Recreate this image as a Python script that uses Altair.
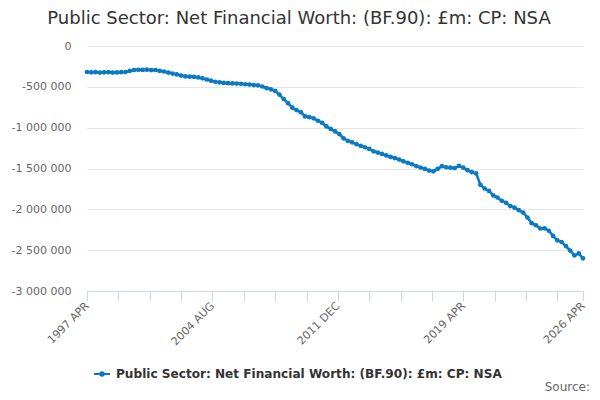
import altair as alt
import pandas as pd

title_text = "Public Sector: Net Financial Worth: (BF.90): £m: CP: NSA"
series_name = "Public Sector: Net Financial Worth: (BF.90): £m: CP: NSA"
source_text = "Source:"

# quarterly readings, £m, starting 1997 APR
values = [
    -318000, -322000, -320000, -325000, -322000, -320000, -326000, -323000, -321000, -318000,
    -305000, -294000, -291000, -293000, -290000, -295000, -294000, -305000, -312000, -325000,
    -338000, -348000, -362000, -372000, -375000, -378000, -385000, -396000, -410000, -425000,
    -438000, -445000, -452000, -455000, -458000, -460000, -463000, -468000, -472000, -478000,
    -482000, -496000, -515000, -530000, -550000, -595000, -650000, -700000, -755000, -785000,
    -810000, -862000, -872000, -886000, -915000, -942000, -985000, -1015000, -1045000, -1078000,
    -1130000, -1162000, -1180000, -1202000, -1222000, -1240000, -1260000, -1290000, -1305000, -1322000,
    -1340000, -1358000, -1372000, -1390000, -1412000, -1430000, -1448000, -1470000, -1488000, -1505000,
    -1525000, -1535000, -1505000, -1472000, -1485000, -1490000, -1495000, -1468000, -1490000, -1520000,
    -1545000, -1560000, -1700000, -1745000, -1775000, -1830000, -1855000, -1895000, -1920000, -1960000,
    -1980000, -2010000, -2040000, -2100000, -2170000, -2195000, -2235000, -2232000, -2262000, -2325000,
    -2380000, -2400000, -2450000, -2505000, -2565000, -2540000, -2600000,
]

y_ticks = [0, -500000, -1000000, -1500000, -2000000, -2500000, -3000000]
labelled_months = ["1997-04", "2004-08", "2011-12", "2019-04", "2026-04"]

start = pd.Timestamp("1997-04-01")
dates = [(start + pd.DateOffset(months=3 * i)).strftime("%Y-%m-%d") for i in range(len(values))]
df = pd.DataFrame({"date": dates, "value": values, "series": series_name})

tick_dates = [start + pd.DateOffset(months=22 * i) for i in range(16)] + [pd.Timestamp("2026-04-01")]
tick_values = [alt.DateTime(year=t.year, month=t.month, date=1, utc=True) for t in tick_dates]

blue = "#0a7bc2"
font = "DejaVu Sans"

label_list = "[" + ",".join("'" + m + "'" for m in labelled_months) + "]"
x_label_expr = (
    "indexof(" + label_list + ", utcFormat(datum.value, '%Y-%m')) >= 0 ? "
    "upper(utcFormat(datum.value, '%Y %b')) : ''"
)
y_label_expr = "replace(replace(format(datum.value, ','), regexp(',', 'g'), ' '), '\u2212', '-')"

x_enc = alt.X(
    "date:T",
    scale=alt.Scale(type="utc", domain=[alt.DateTime(year=1997, month=4, date=1, utc=True),
                                        alt.DateTime(year=2026, month=4, date=1, utc=True)]),
    axis=alt.Axis(
        title=None, values=tick_values, labelExpr=x_label_expr, grid=False,
        domainColor="#ccd6eb", tickColor="#ccd6eb", tickSize=10, labelAngle=315,
        labelAlign="right", labelBaseline="middle", labelFont=font, labelFontSize=11,
        labelColor="#666666", labelPadding=3, labelOverlap=False, labelFlush=False,
    ),
)
y_enc = alt.Y(
    "value:Q",
    scale=alt.Scale(domain=[-3000000, 0], nice=False, zero=False),
    axis=alt.Axis(
        title=None, values=y_ticks, labelExpr=y_label_expr, domain=False, ticks=False,
        gridColor="#e6e6e6", labelFont=font, labelFontSize=11, labelColor="#666666",
        labelPadding=16,
    ),
)
color_enc = alt.Color(
    "series:N",
    scale=alt.Scale(range=[blue]),
    legend=alt.Legend(
        title=None, orient="none", legendX=6, legendY=319,
        symbolType="M-1,0L1,0M-0.22,0A0.22,0.22,0,1,1,0.22,0A0.22,0.22,0,1,1,-0.22,0Z",
        symbolSize=256, symbolStrokeWidth=2, symbolStrokeColor=blue, symbolFillColor=blue,
        labelFont=font, labelFontSize=12.1, labelFontWeight="bold", labelColor="#333333",
        labelLimit=600, labelOffset=5,
    ),
)

line = alt.Chart(df).mark_line(strokeWidth=2.6).encode(x=x_enc, y=y_enc, color=color_enc)
points = alt.Chart(df).mark_point(filled=True, size=22, opacity=1).encode(x=x_enc, y=y_enc, color=color_enc)

src = alt.Chart(pd.DataFrame({"t": [source_text]})).mark_text(
    align="right", baseline="alphabetic", font=font, fontSize=12, color="#666666"
).encode(text="t:N", x=alt.value(503), y=alt.value(345))

chart = alt.layer(line, points, src).properties(
    width=496,
    height=245,
    autosize=alt.AutoSizeParams(type="none"),
    padding={"left": 79, "top": 38, "right": 9, "bottom": 103},
    title=alt.TitleParams(
        text=title_text, font=font, fontSize=18, fontWeight="normal", color="#333333",
        anchor="middle", frame="group", dx=-36, offset=12,
    ),
).configure_view(stroke=None)

chart.save("out.html", embed_options={"renderer": "svg", "actions": False})
